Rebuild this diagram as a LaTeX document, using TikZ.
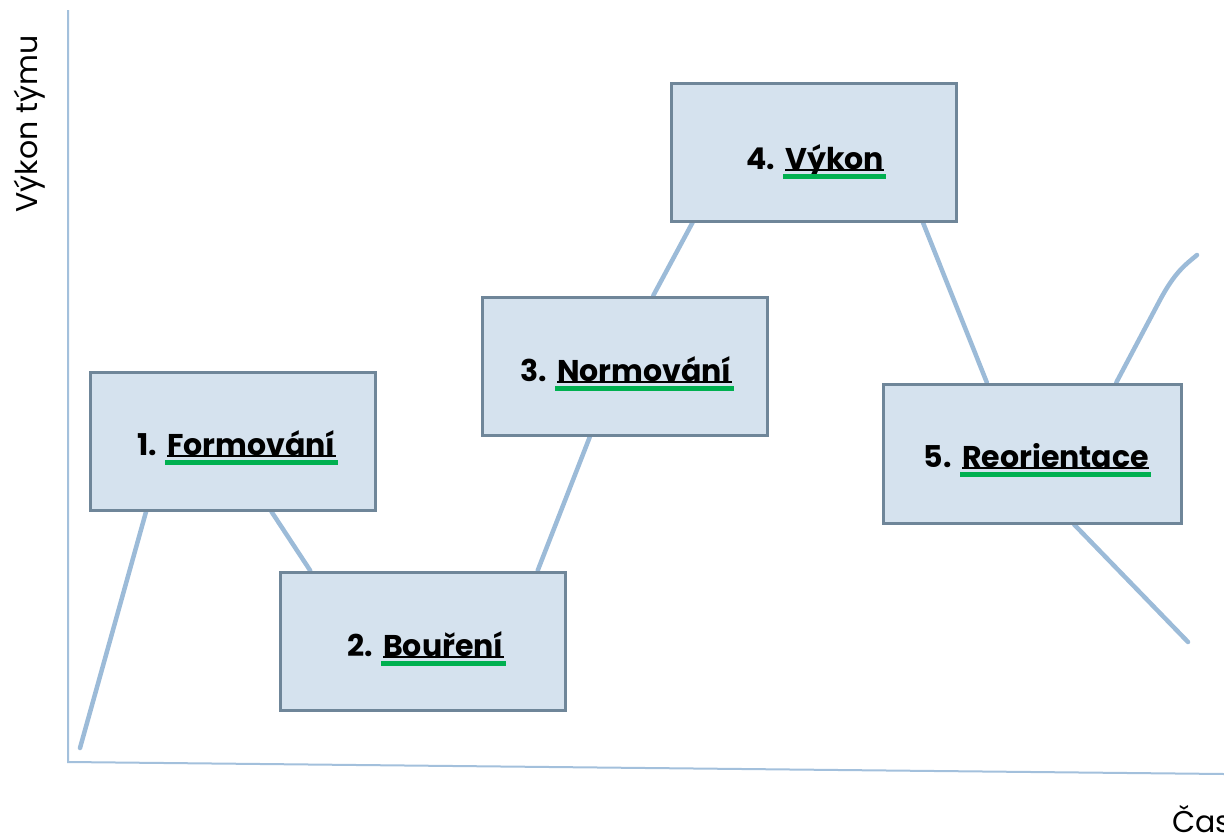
\documentclass[tikz,border=0pt]{standalone}
\usepackage{fontspec}
\setmainfont{Poppins}
\usetikzlibrary{calc}
\definecolor{linec}{HTML}{9CBBD8}
\definecolor{axisc}{HTML}{A3C0DC}
\definecolor{boxfill}{HTML}{D5E2EE}
\definecolor{boxline}{HTML}{6F8699}
\definecolor{barc}{HTML}{00B050}
\tikzset{
  stagebox/.style={draw=boxline, line width=3pt, fill=boxfill, minimum width=285pt, minimum height=138pt, inner sep=0pt},
  curve/.style={draw=linec, line width=4.5pt, line cap=round},
  axisline/.style={draw=axisc, line width=2pt},
  word/.style={font=\fontsize{30}{33}\selectfont\bfseries, inner sep=0pt, anchor=base west},
  num/.style={font=\fontsize{30}{33}\selectfont\bfseries, inner sep=0pt, anchor=base east},
  axislabel/.style={font=\fontsize{30}{33}\selectfont, inner sep=0pt},
}
\newcommand{\gbar}[1]{%
  \draw[black, line width=1.2pt] ($(#1.base west)+(0,1)$) -- ($(#1.base east)+(0,1)$);
  \fill[barc] ($(#1.base west)+(-2,4.5)$) rectangle ($(#1.base east)+(2,10)$);}
\begin{document}
\begin{tikzpicture}[x=1pt,y=-1pt]
\useasboundingbox (0,0) rectangle (1224,835);
% axes
\coordinate (ytop) at (68,10);
\coordinate (origin) at (68,762);
\coordinate (xend) at (1224,774);
\draw[axisline] (ytop) -- (origin) -- (xend);
\node[axislabel, rotate=90] (ylab) at (30,124) {Výkon týmu};
\node[axislabel, anchor=base west] (xlab) at (1172,832) {Čas};
% free ends
\coordinate (start) at (80,748);
\coordinate (upend) at (1197,255);
\coordinate (downend) at (1188,642);
% box positions
\coordinate (p1) at (232.5,441);
\coordinate (p2) at (422.5,641);
\coordinate (p3) at (624.5,366);
\coordinate (p4) at (813.5,152);
\coordinate (p5) at (1032,453.5);
\node[stagebox, draw=none, fill=none] (b1) at (p1) {};
\node[stagebox, draw=none, fill=none] (b2) at (p2) {};
\node[stagebox, draw=none, fill=none] (b3) at (p3) {};
\node[stagebox, draw=none, fill=none] (b4) at (p4) {};
\node[stagebox, draw=none, fill=none, minimum width=298pt, minimum height=139pt] (b5) at (p5) {};
% connectors
\draw[curve] (start) -- ($(b1.south west)!0.2!(b1.south east)$);
\draw[curve] ($(b1.south west)!0.635!(b1.south east)$) -- ($(b2.north west)!0.11!(b2.north east)$);
\draw[curve] ($(b2.north west)!0.9!(b2.north east)$) -- ($(b3.south west)!0.38!(b3.south east)$);
\draw[curve] ($(b3.north west)!0.6!(b3.north east)$) -- ($(b4.south west)!0.08!(b4.south east)$);
\draw[curve] ($(b4.south west)!0.88!(b4.south east)$) -- ($(b5.north west)!0.35!(b5.north east)$);
\draw[curve] ($(b5.north west)!0.78!(b5.north east)$) -- (1160,300) .. controls (1175,272) and (1185,265) .. (upend);
\draw[curve] ($(b5.south west)!0.64!(b5.south east)$) -- (downend);
% boxes
\node[stagebox] at (b1) {};
\node[stagebox] at (b2) {};
\node[stagebox] at (b3) {};
\node[stagebox] at (b4) {};
\node[stagebox, minimum width=298pt, minimum height=139pt] at (b5) {};
% labels
\node[word] (w1) at (167,455) {Formování};
\node[num] (n1) at ($(w1.base west)+(-10,0)$) {1.};
\gbar{w1}
\node[word] (w2) at (383,656) {Bouření};
\node[num] (n2) at ($(w2.base west)+(-10,0)$) {2.};
\gbar{w2}
\node[word] (w3) at (557,381) {Normování};
\node[num] (n3) at ($(w3.base west)+(-10,0)$) {3.};
\gbar{w3}
\node[word] (w4) at (785,169) {Výkon};
\node[num] (n4) at ($(w4.base west)+(-10,0)$) {4.};
\gbar{w4}
\node[word] (w5) at (962,467) {Reorientace};
\node[num] (n5) at ($(w5.base west)+(-10,0)$) {5.};
\gbar{w5}
\end{tikzpicture}
\end{document}
